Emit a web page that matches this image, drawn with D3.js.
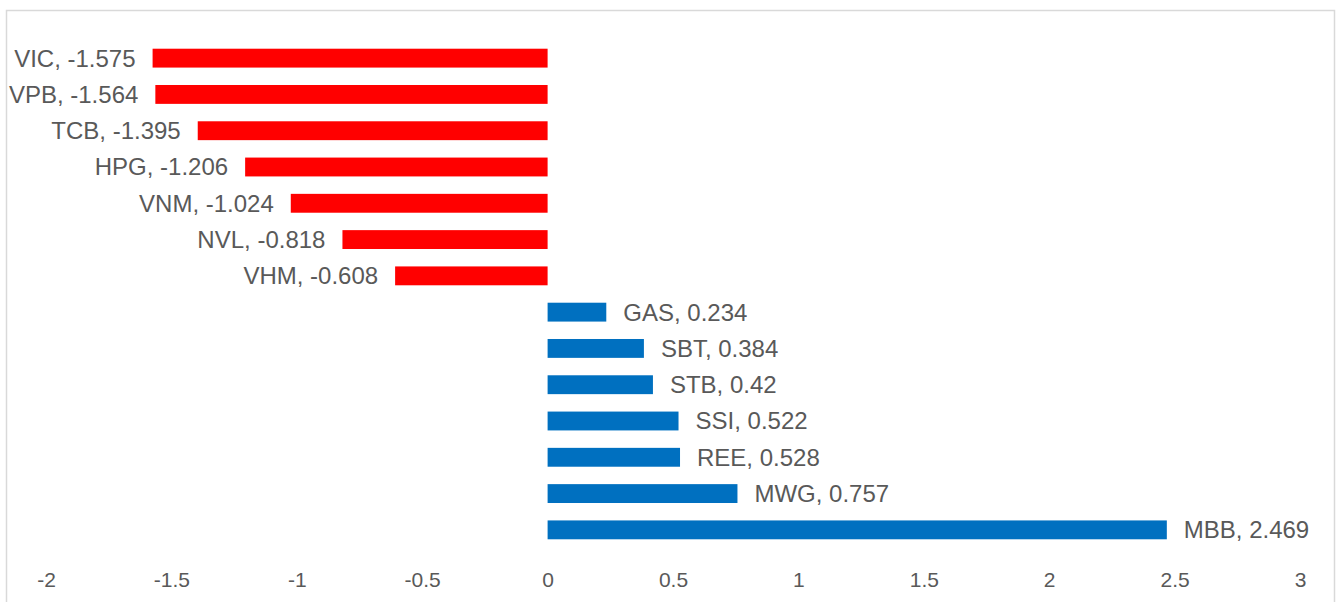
<!DOCTYPE html>
<html><head><meta charset="utf-8">
<script src="https://cdn.jsdelivr.net/npm/d3@7"></script>
<style>body{margin:0;background:#fff;} svg{display:block;}</style>
</head><body>
<script>
const categories = ["VIC","VPB","TCB","HPG","VNM","NVL","VHM","GAS","SBT","STB","SSI","REE","MWG","MBB"];
const values = [-1.575,-1.564,-1.395,-1.206,-1.024,-0.818,-0.608,0.234,0.384,0.42,0.522,0.528,0.757,2.469];
const valueLabels = ["-1.575","-1.564","-1.395","-1.206","-1.024","-0.818","-0.608","0.234","0.384","0.42","0.522","0.528","0.757","2.469"];
const tickValues = [-2,-1.5,-1,-0.5,0,0.5,1,1.5,2,2.5,3];
const tickLabels = ["-2","-1.5","-1","-0.5","0","0.5","1","1.5","2","2.5","3"];

const W = 1337, H = 602;
const svg = d3.select("body").append("svg").attr("width", W).attr("height", H);
svg.append("rect").attr("x", 6.5).attr("y", 10.5).attr("width", 1328).attr("height", 600)
  .attr("fill", "#fff").attr("stroke", "#d9d9d9").attr("stroke-width", 1.5);

const x = d3.scaleLinear().domain([-2, 3]).range([46, 1300]);
const y = d3.scaleBand().domain(categories).range([40, 548]).paddingInner(0.48).paddingOuter(0.24);

const data = categories.map((c, i) => ({c, v: values[i], l: valueLabels[i]}));

svg.selectAll("rect.bar").data(data).join("rect").attr("class", "bar")
  .attr("x", d => x(Math.min(0, d.v)))
  .attr("y", d => y(d.c))
  .attr("width", d => Math.abs(x(d.v) - x(0)))
  .attr("height", y.bandwidth())
  .attr("fill", d => d.v < 0 ? "#ff0000" : "#0070c0");

svg.selectAll("text.lbl").data(data).join("text").attr("class", "lbl")
  .attr("x", d => d.v < 0 ? x(d.v) - 17 : x(d.v) + 17)
  .attr("y", d => y(d.c) + y.bandwidth() / 2)
  .attr("dy", "0.35em")
  .attr("text-anchor", d => d.v < 0 ? "end" : "start")
  .attr("font-family", "Liberation Sans, Arial, sans-serif")
  .attr("font-size", 24)
  .attr("fill", "#595959")
  .text(d => `${d.c}, ${d.l}`);

const axis = d3.axisBottom(x).tickValues(tickValues).tickFormat((d, i) => tickLabels[i]).tickSize(0).tickPadding(0);
const gx = svg.append("g").attr("transform", "translate(0,572)").call(axis);
gx.select(".domain").remove();
gx.selectAll("text").attr("font-family", "Liberation Sans, Arial, sans-serif").attr("font-size", 21)
  .attr("fill", "#595959").attr("dy", "0.71em");
</script>
</body></html>
